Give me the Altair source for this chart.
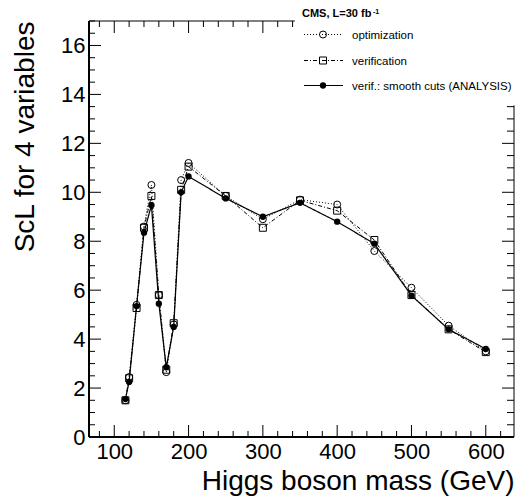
import altair as alt
import pandas as pd

# ---- data ----
masses = [115, 120, 130, 140, 150, 160, 170, 180, 190, 200, 250, 300, 350, 400, 450, 500, 550, 600]
opt = [1.50, 2.45, 5.40, 8.60, 10.30, 5.80, 2.65, 4.60, 10.50, 11.20, 9.85, 8.90, 9.70, 9.50, 7.60, 6.10, 4.55, 3.50]
verif = [1.50, 2.40, 5.27, 8.55, 9.85, 5.80, 2.75, 4.65, 10.10, 11.05, 9.85, 8.55, 9.67, 9.25, 8.05, 5.80, 4.40, 3.47]
smooth = [1.55, 2.25, 5.35, 8.35, 9.47, 5.45, 2.85, 4.50, 10.00, 10.65, 9.75, 9.00, 9.57, 8.80, 7.90, 5.78, 4.40, 3.60]
series_names = ["optimization", "verification", "verif.: smooth cuts (ANALYSIS)"]
legend_title = "CMS, L=30 fb"
legend_sup = "-1"

x_major = [100, 200, 300, 400, 500, 600]
y_major = [0, 2, 4, 6, 8, 10, 12, 14, 16]
x_minor = [v for v in range(80, 631, 20) if v not in x_major]
y_minor = [i * 0.5 for i in range(35) if (i * 0.5) not in y_major]

# ---- layout ----
FONT = "Liberation Sans"
W, H = 425, 416
XDOM, YDOM = [66, 638], [0, 17]
X_LEG_EDGE = 343      # legend box hides frame to the right of this x
Y_LEG_EDGE = 13.55    # legend box hides frame above this y

xs = alt.Scale(domain=XDOM, nice=False, zero=False)
ys = alt.Scale(domain=YDOM, nice=False, zero=False)

df = pd.DataFrame({
    "mass": masses * 3,
    "value": opt + verif + smooth,
    "series": [series_names[0]] * len(masses) + [series_names[1]] * len(masses) + [series_names[2]] * len(masses),
})

styles = [
    dict(dash=[1, 2], shape="circle", filled=False, size=49, lw=1.0),
    dict(dash=[4, 2, 1, 2], shape="square", filled=False, size=49, lw=1.0),
    dict(dash=[1, 0], shape="circle", filled=True, size=40, lw=1.2),
]

xaxis = alt.Axis(values=x_major, title="Higgs boson mass (GeV)", grid=False, ticks=False, domain=False,
                 labelFontSize=22, labelPadding=4, labelFont=FONT, labelColor="black", labelFlush=False,
                 labelOverlap=False, titleFont=FONT, titleFontSize=28, titleFontWeight="normal",
                 titleColor="black", titleX=W, titleY=52, titleAlign="right", titleBaseline="alphabetic",
                 titleAngle=0)
yaxis = alt.Axis(values=y_major, title="ScL for 4 variables", grid=False, ticks=False, domain=False,
                 labelFontSize=22, labelPadding=4, labelFont=FONT, labelColor="black", labelFlush=False,
                 labelOverlap=False, titleFont=FONT, titleFontSize=28, titleFontWeight="normal",
                 titleColor="black", titleX=-56, titleY=0, titleAlign="right", titleBaseline="alphabetic",
                 titleAngle=270)

def X(field):
    return alt.X(field, scale=xs, axis=xaxis)

def Y(field):
    return alt.Y(field, scale=ys, axis=yaxis)

layers = []
for name, st in zip(series_names, styles):
    base = alt.Chart(df).transform_filter(alt.datum.series == name)
    layers.append(base.mark_line(color="black", strokeWidth=st["lw"], strokeDash=st["dash"]).encode(
        x=X("mass:Q"), y=Y("value:Q")))
    layers.append(base.mark_point(shape=st["shape"], filled=st["filled"], size=st["size"], color="black",
                                  strokeWidth=1, opacity=1).encode(x=X("mass:Q"), y=Y("value:Q")))

# ---- frame and inward ticks (ROOT style) ----
def vdf(vals):
    return pd.DataFrame({"v": vals})

def yticks(vals, x0, x1):
    return alt.Chart(vdf(vals)).mark_rule(color="black", strokeWidth=1).encode(
        y=Y("v:Q"), x=alt.value(x0), x2=alt.value(x1))

def xticks(vals, y0, y1):
    return alt.Chart(vdf(vals)).mark_rule(color="black", strokeWidth=1).encode(
        x=X("v:Q"), y=alt.value(y0), y2=alt.value(y1))

layers += [
    yticks(y_major, 0, 12), yticks(y_minor, 0, 6),
    yticks([v for v in y_major if v <= Y_LEG_EDGE], W, W - 12),
    yticks([v for v in y_minor if v <= Y_LEG_EDGE], W, W - 7),
    xticks(x_major, H, H - 12), xticks(x_minor, H, H - 6),
    xticks([v for v in x_major if v <= X_LEG_EDGE], 0, 12),
    xticks([v for v in x_minor if v <= X_LEG_EDGE], 0, 6),
]

one = alt.Data(values=[{}])
# left and bottom frame
layers.append(alt.Chart(one).mark_rule(color="black", strokeWidth=2).encode(
    x=alt.value(0), y=alt.value(0), y2=alt.value(H)))
layers.append(alt.Chart(one).mark_rule(color="black", strokeWidth=2).encode(
    x=alt.value(0), x2=alt.value(W), y=alt.value(H)))
# top and right frame (partly hidden by legend box)
layers.append(alt.Chart(pd.DataFrame({"a": [XDOM[0]], "b": [X_LEG_EDGE]})).mark_rule(color="black", strokeWidth=1).encode(
    x=X("a:Q"), x2="b:Q", y=alt.value(0)))
layers.append(alt.Chart(pd.DataFrame({"a": [YDOM[0]], "b": [Y_LEG_EDGE]})).mark_rule(color="black", strokeWidth=1).encode(
    y=Y("a:Q"), y2="b:Q", x=alt.value(W)))

# ---- legend ----
LX0, LX1, LXM, LXT = 215, 254, 234, 263
LY = [13.5, 39.5, 64.5]
for name, st, ly in zip(series_names, styles, LY):
    layers.append(alt.Chart(one).mark_rule(color="black", strokeWidth=st["lw"], strokeDash=st["dash"]).encode(
        x=alt.value(LX0), x2=alt.value(LX1), y=alt.value(ly)))
    layers.append(alt.Chart(one).mark_point(shape=st["shape"], filled=st["filled"], size=st["size"], color="black",
                                            strokeWidth=1, opacity=1).encode(x=alt.value(LXM), y=alt.value(ly)))
    layers.append(alt.Chart(one).mark_text(text=name, font=FONT, fontSize=11.5, align="left", baseline="alphabetic",
                                           color="black").encode(x=alt.value(LXT), y=alt.value(ly + 4)))
layers.append(alt.Chart(one).mark_text(text=legend_title, font=FONT, fontSize=11, fontWeight="bold", align="left",
                                       baseline="alphabetic", color="black").encode(x=alt.value(213), y=alt.value(-4)))
layers.append(alt.Chart(one).mark_text(text=legend_sup, font=FONT, fontSize=7, fontWeight="bold", align="left",
                                       baseline="alphabetic", color="black").encode(x=alt.value(284), y=alt.value(-7.5)))

chart = alt.layer(*layers).properties(
    width=W, height=H,
    autosize=alt.AutoSizeParams(type="none"),
    padding={"left": 81, "top": 13, "right": 1, "bottom": 60},
    background="white",
).configure_view(stroke=None)

chart.save("out.html", embed_options={"renderer": "svg", "actions": False})
